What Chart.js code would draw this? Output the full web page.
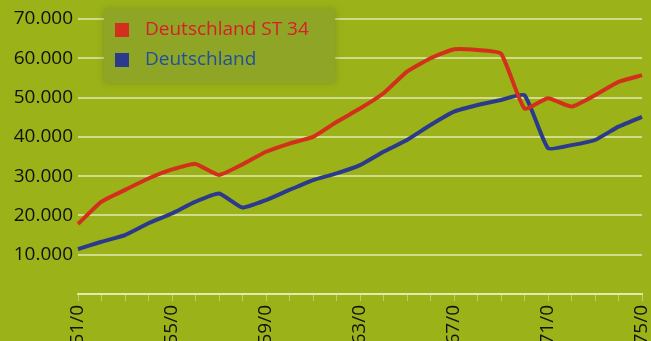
<!DOCTYPE html>
<html>
<head>
<meta charset="utf-8">
<script src="https://cdn.jsdelivr.net/npm/chart.js@4"></script>
<style>
  html, body { margin: 0; padding: 0; overflow: hidden; background: #9bb218; }
  #wrap { width: 651px; height: 372px; }
</style>
</head>
<body>
<div id="wrap"><canvas id="chart" width="651" height="372"></canvas></div>
<script>
// years 1951 .. 1975
const years = [
  "1951/0", "1952/0", "1953/0", "1954/0", "1955/0", "1956/0", "1957/0", "1958/0", "1959/0",
  "1960/0", "1961/0", "1962/0", "1963/0", "1964/0", "1965/0", "1966/0", "1967/0", "1968/0",
  "1969/0", "1970/0", "1971/0", "1972/0", "1973/0", "1974/0", "1975/0"
];

const st34 = [
  17800, 23500, 26500, 29400, 31700, 33100, 30300, 33000, 36200,
  38300, 40000, 43800, 47200, 51100, 56600, 60000, 62300, 62100,
  61200, 47200, 49800, 47700, 50600, 54000, 55700
];

const germany = [
  11400, 13300, 15000, 18000, 20500, 23500, 25600, 22000, 23900,
  26500, 29000, 30700, 32800, 36200, 39200, 43000, 46400, 48100,
  49400, 50600, 37100, 37900, 39200, 42600, 45100
];

const yTicks = [10000, 20000, 30000, 40000, 50000, 60000, 70000];

const BG = "#9bb218";
const FONT = "'Open Sans', sans-serif";

// background fill + legend panel inside the plot
const backdrop = {
  id: "backdrop",
  beforeDraw(chart) {
    const ctx = chart.ctx;
    ctx.save();
    ctx.fillStyle = BG;
    ctx.fillRect(0, 0, chart.width, chart.height);
    ctx.restore();
  },
  afterDatasetsDraw(chart) {
    const ctx = chart.ctx;
    ctx.save();
    ctx.shadowColor = "rgba(110,130,30,0.6)";
    ctx.shadowBlur = 6;
    ctx.fillStyle = "#8fa526";
    ctx.fillRect(104, 9, 231, 74);
    ctx.shadowBlur = 0;
    ctx.font = "19px " + FONT;
    ctx.textBaseline = "middle";
    const textColors = ["#d81e2a", "#1f4f9e"];
    chart.data.datasets.forEach((ds, i) => {
      const y = 30 + i * 30;
      ctx.fillStyle = ds.borderColor;
      ctx.fillRect(115, y - 7, 14, 14);
      ctx.fillStyle = textColors[i];
      ctx.fillText(ds.label, 145, y);
    });
    ctx.restore();
  }
};

new Chart(document.getElementById("chart"), {
  type: "line",
  data: {
    labels: years,
    datasets: [
      {
        label: "Deutschland ST 34",
        data: st34,
        borderColor: "#d2301c",
        borderWidth: 4,
        pointRadius: 0,
        tension: 0.15
      },
      {
        label: "Deutschland",
        data: germany,
        borderColor: "#2b3a8c",
        borderWidth: 4,
        pointRadius: 0,
        tension: 0.15
      }
    ]
  },
  options: {
    responsive: false,
    animation: false,
    layout: { padding: { top: 19, right: 9, left: 0, bottom: 0 } },
    plugins: {
      legend: { display: false },
      tooltip: { enabled: false }
    },
    scales: {
      x: {
        afterFit(scale) {
          scale.height = 78;
          scale.paddingLeft = 0;
          scale.paddingRight = 0;
        },
        grid: {
          drawOnChartArea: false,
          drawTicks: true,
          tickLength: 7,
          color: "rgba(230,235,180,0.5)",
          lineWidth: 1
        },
        border: { display: true, color: "rgba(232,236,190,0.8)", width: 2 },
        ticks: {
          autoSkip: false,
          minRotation: 90,
          maxRotation: 90,
          padding: 4,
          color: "#111",
          font: { size: 19, family: FONT },
          callback(value, index) {
            return index % 4 === 0 ? years[index] : "";
          }
        }
      },
      y: {
        min: 0,
        max: 70000,
        afterFit(scale) { scale.width = 78; },
        afterBuildTicks(scale) {
          scale.ticks = [0].concat(yTicks).map(v => ({ value: v }));
        },
        grid: {
          drawTicks: false,
          color: "rgba(232,236,190,0.7)",
          lineWidth: 2
        },
        border: { display: false },
        ticks: {
          padding: 5,
          color: "#111",
          font: { size: 19, family: FONT },
          callback(value) {
            if (value === 0) return "";
            return value.toLocaleString("de-DE");
          }
        }
      }
    }
  },
  plugins: [backdrop]
});
</script>
</body>
</html>
